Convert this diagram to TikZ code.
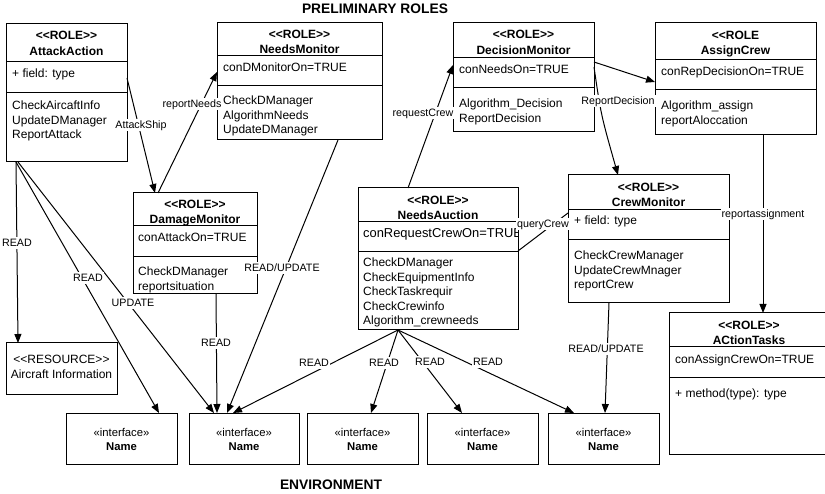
\documentclass[tikz,border=0pt]{standalone}
\usepackage{fontspec}
\setmainfont{Liberation Sans}
\usetikzlibrary{arrows.meta}
\tikzset{
  box/.style={draw, line width=1pt, rectangle, inner sep=0pt, outer sep=0pt, anchor=north west},
  divider/.style={line width=1pt},
  hdr/.style={font=\bfseries\fontsize{12}{14}\selectfont, anchor=base, inner sep=0pt},
  txt/.style={font=\fontsize{12}{14}\selectfont, anchor=base west, inner sep=0pt},
  ctxt/.style={font=\fontsize{12}{14}\selectfont, anchor=base, inner sep=0pt},
  itxt/.style={font=\fontsize{11.3}{13}\selectfont, anchor=base, inner sep=0pt},
  ibold/.style={font=\bfseries\fontsize{11.3}{13}\selectfont, anchor=base, inner sep=0pt},
  ttl/.style={font=\bfseries\fontsize{13.8}{16}\selectfont, anchor=base, inner sep=0pt},
  lbl/.style={font=\fontsize{10.7}{12}\selectfont, fill=white, inner sep=1pt, text height=7.7pt, text depth=1.5pt},
  conn/.style={line width=1pt, -{Triangle[length=9pt,width=7pt]}},
  plainline/.style={line width=1pt},
}
\newcommand\umlbox[5]{\node[box, minimum width={(#4-#2)*1pt}, minimum height={(#5-#3)*1pt}] (#1) at (#2,#3) {};}
\newcommand\umlsplit[2]{\draw[divider] (#1.west |- 0,#2) -- (#1.east |- 0,#2);}
\newcommand\txtlines[4]{\foreach \itm [count=\i from 0] in {#4} {\node[txt] (#1-\i) at (#2,#3+14.5*\i) {\itm};}}
\newcommand\roletag{<{}<ROLE>{}>}
\begin{document}
\begin{tikzpicture}[x=1pt,y=-1pt]
\useasboundingbox (0,0) rectangle (825,494);

% titles
\node[ttl] (title1) at (375,14) {PRELIMINARY ROLES};
\node[ttl] (title2) at (331,489) {ENVIRONMENT};

% AttackAction
\umlbox{aa}{6}{24}{127}{162}
\umlsplit{aa}{62}\umlsplit{aa}{93}
\node[hdr] (aa-h1) at (66.5,40) {\roletag};
\node[hdr] (aa-h2) at (66.5,56) {AttackAction};
\node[txt] (aa-a) at (12,78) {+ field: type};
\txtlines{aa-m}{12}{110}{CheckAircaftInfo,UpdateDManager,ReportAttack}

% NeedsMonitor
\umlbox{nm}{217}{23}{382}{140}
\umlsplit{nm}{56}\umlsplit{nm}{86}
\node[hdr] (nm-h1) at (299.5,39) {\roletag};
\node[hdr] (nm-h2) at (299.5,54) {NeedsMonitor};
\node[txt] (nm-a) at (223,72) {conDMonitorOn=TRUE};
\txtlines{nm-m}{223}{105}{CheckDManager,AlgorithmNeeds,UpdateDManager}

% DecisionMonitor
\umlbox{dm}{453}{23}{594}{132}
\umlsplit{dm}{58}\umlsplit{dm}{88}
\node[hdr] (dm-h1) at (523.5,39) {\roletag};
\node[hdr] (dm-h2) at (523.5,55) {DecisionMonitor};
\node[txt] (dm-a) at (459,74) {conNeedsOn=TRUE};
\txtlines{dm-m}{459}{108}{Algorithm\_Decision,ReportDecision}

% AssignCrew
\umlbox{ac}{655}{23}{816}{135}
\umlsplit{ac}{60}\umlsplit{ac}{90}
\node[hdr] (ac-h1) at (735.5,40) {<{}<ROLE};
\node[hdr] (ac-h2) at (735.5,55) {AssignCrew};
\node[txt] (ac-a) at (661,76) {conRepDecisionOn=TRUE};
\txtlines{ac-m}{661}{110}{Algorithm\_assign,reportAloccation}

% DamageMonitor
\umlbox{dam}{133}{193}{257}{294}
\umlsplit{dam}{226}\umlsplit{dam}{257}
\node[hdr] (dam-h1) at (195,209) {\roletag};
\node[hdr] (dam-h2) at (195,224) {DamageMonitor};
\node[txt] (dam-a) at (138,242) {conAttackOn=TRUE};
\txtlines{dam-m}{138}{276}{CheckDManager,reportsituation}

% Aircraft resource
\umlbox{res}{6}{343}{117}{394}
\node[ctxt] (res-h1) at (61.5,364) {<{}<RESOURCE>{}>};
\node[ctxt] (res-h2) at (61.5,379) {Aircraft Information};

% NeedsAuction
\umlbox{na}{358}{188}{518}{330}
\umlsplit{na}{222}\umlsplit{na}{252}
\node[hdr] (na-h1) at (438,205) {\roletag};
\node[hdr] (na-h2) at (438,220) {NeedsAuction};
\begin{scope}
\clip (358,222) rectangle (517.5,252);
\node[txt, font=\fontsize{12.9}{14}\selectfont] (na-a) at (363,238) {conRequestCrewOn=TRUE};
\end{scope}
\txtlines{na-m}{363}{267}{CheckDManager,CheckEquipmentInfo,CheckTaskrequir,CheckCrewinfo,Algorithm\_crewneeds}

% CrewMonitor
\umlbox{cm}{568}{175}{729}{303}
\umlsplit{cm}{210}\umlsplit{cm}{240}
\node[hdr] (cm-h1) at (648.5,192) {\roletag};
\node[hdr] (cm-h2) at (648.5,207) {CrewMonitor};
\node[txt] (cm-a) at (574,225) {+ field: type};
\txtlines{cm-m}{574}{260}{CheckCrewManager,UpdateCrewMnager,reportCrew}

% ActionTasks
\umlbox{at}{669}{313}{828}{454}
\umlsplit{at}{347}\umlsplit{at}{378}
\node[hdr] (at-h1) at (749,330) {\roletag};
\node[hdr] (at-h2) at (749,345) {ACtionTasks};
\node[txt] (at-a) at (675,363) {conAssignCrewOn=TRUE};
\node[txt] (at-m) at (675,397) {+ method(type): type};

% interfaces
\foreach \nm/\xa/\xb in {i1/66/177, i2/189/299, i3/307/418, i4/427/538, i5/548/659} {
  \umlbox{\nm}{\xa}{413}{\xb}{464}
  \node[itxt] (\nm-s) at ({(\xa+\xb)/2},436) {«interface»};
  \node[ibold] (\nm-n) at ({(\xa+\xb)/2},450) {Name};
}

% connectors
\draw[conn] (aa.east |- 0,78) -- (dam.north -| 155,0);
\draw[conn] (dam.north -| 158,0) -- (nm.west |- 0,72);
\draw[conn] (aa.south -| 16,0) -- (res.north -| 18,0);
\draw[conn] (aa.south -| 16,0) -- (i1.north -| 159,0);
\draw[conn] (aa.south -| 18,0) -- (i2.north -| 214,0);
\draw[conn] (dam.south -| 216,0) -- (i2.north -| 217,0);
\draw[conn] (nm.south -| 338,0) -- (i2.north -| 227,0);
\draw[conn] (na.north -| 408,0) -- (dm.west |- 0,65);
\draw[conn] (dm.east |- 0,62) -- (ac.west |- 0,82);
\draw[conn] (dm.east |- 0,67) .. controls (601,115) .. (cm.north -| 618,0);
\draw[plainline] (na.east |- 0,251) -- (cm.west |- 0,213);
\draw[conn] (ac.south -| 763,0) -- (at.north -| 763,0);
\draw[conn] (cm.south -| 609,0) -- (i5.north -| 605,0);
\draw[conn] (na.south -| 398,0) -- (i2.north -| 233,0);
\draw[conn] (na.south -| 398,0) -- (i3.north -| 371,0);
\draw[conn] (na.south -| 398,0) -- (i4.north -| 462,0);
\draw[conn] (na.south -| 398,0) -- (i5.north -| 574,0);

% connector labels
\node[lbl] (l1) at (141,125) {AttackShip};
\node[lbl] (l2) at (192,104) {reportNeeds};
\node[lbl] (l3) at (17,243) {READ};
\node[lbl] (l4) at (88,278) {READ};
\node[lbl] (l5) at (133,303) {UPDATE};
\node[lbl] (l6) at (216,343) {READ};
\node[lbl] (l7) at (282,268) {READ/UPDATE};
\node[lbl] (l8) at (423,113) {requestCrew};
\node[lbl] (l9) at (618,101) {ReportDecision};
\node[lbl] (l10) at (543,224) {queryCrew};
\node[lbl] (l11) at (763,214) {reportassignment};
\node[lbl] (l12) at (606,349) {READ/UPDATE};
\node[lbl] (l13) at (314,363) {READ};
\node[lbl] (l14) at (384,363) {READ};
\node[lbl] (l15) at (430,362) {READ};
\node[lbl] (l16) at (488,362) {READ};
\end{tikzpicture}
\end{document}
